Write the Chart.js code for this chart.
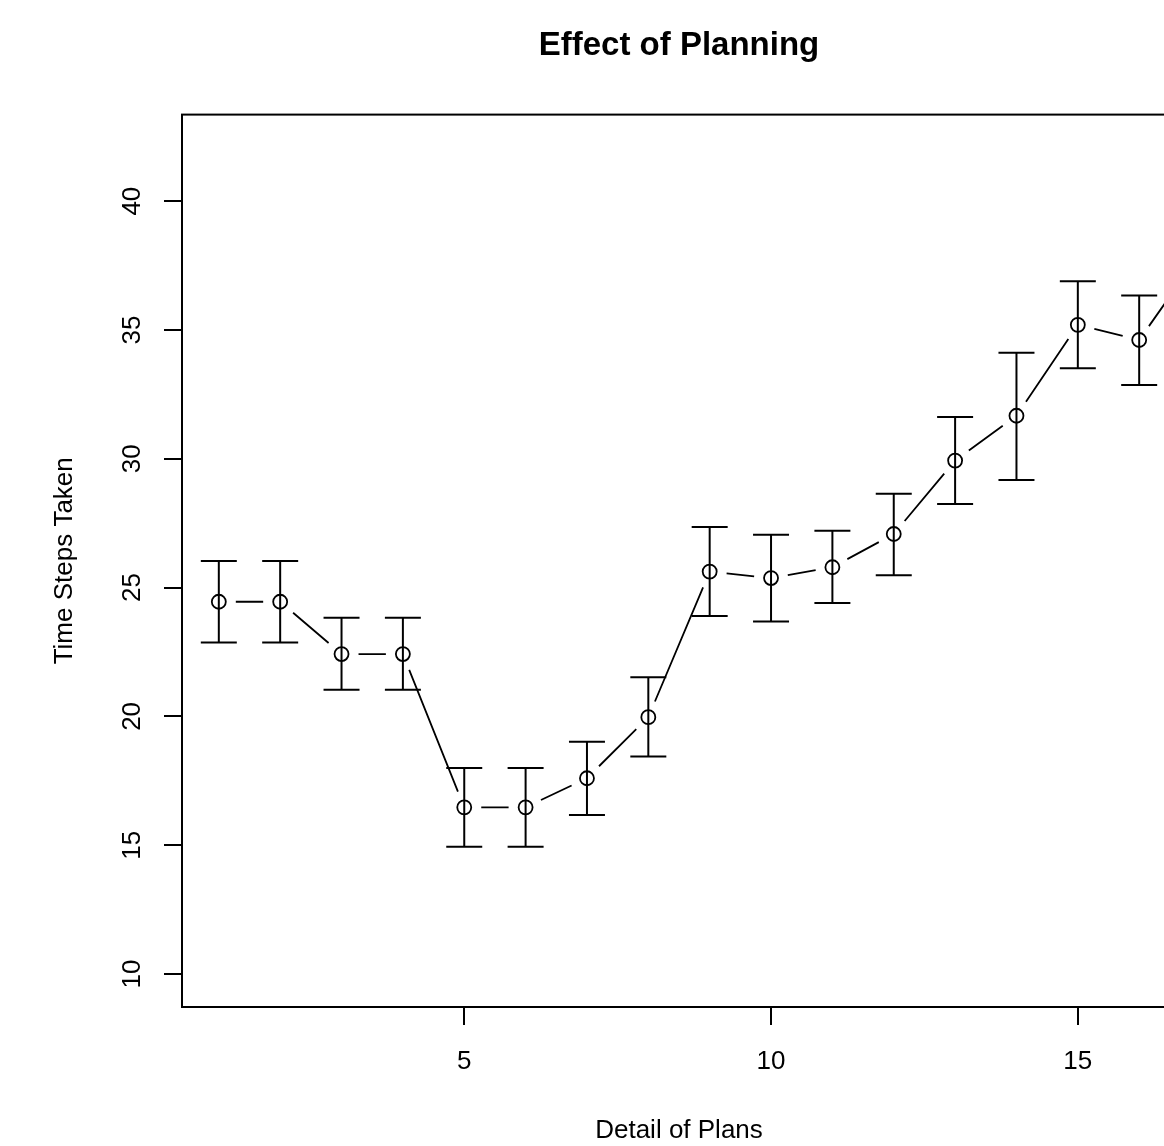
<!DOCTYPE html>
<html lang="en">
<head>
<meta charset="UTF-8">
<title>Effect of Planning</title>
<script src="https://cdn.jsdelivr.net/npm/chart.js"></script>
<style>
  html, body { margin: 0; padding: 0; background: #fff; overflow: hidden; }
  .wrap { width: 1164px; height: 1146px; overflow: hidden; }
  canvas { display: block; }
</style>
</head>
<body>
<div class="wrap">
  <canvas id="planChart" width="1240" height="1146"></canvas>
</div>
<script>
  // data (the last point sits outside the plot box)
  const detail = [1, 2, 3, 4, 5, 6, 7, 8, 9, 10, 11, 12, 13, 14, 15, 16, 17];
  const meanSteps = [24.45, 24.45, 22.42, 22.42, 16.47, 16.47, 17.6, 19.97, 25.62, 25.37, 25.79, 27.08, 29.93, 31.67, 35.2, 34.61, 38.0];
  const upperSteps = [26.03, 26.03, 23.83, 23.83, 18.0, 18.0, 19.02, 21.52, 27.35, 27.05, 27.21, 28.64, 31.62, 34.12, 36.89, 36.34, 39.7];
  const lowerSteps = [22.87, 22.87, 21.03, 21.03, 14.94, 14.94, 16.17, 18.44, 23.9, 23.68, 24.4, 25.48, 28.24, 29.18, 33.51, 32.86, 36.3];
  const xTicks = [5, 10, 15];
  const yTicks = [10, 15, 20, 25, 30, 35, 40];

  Chart.defaults.font.family = '"Liberation Sans", Arial, Helvetica, sans-serif';
  Chart.defaults.color = '#000';

  // error bars, the gapped connecting line and the plot box
  const errorBars = {
    id: 'errorBars',
    afterDatasetsDraw(chart) {
      const ctx = chart.ctx;
      const a = chart.chartArea;
      const x = chart.scales.x, y = chart.scales.y;
      ctx.save();
      ctx.strokeStyle = '#000';
      ctx.lineWidth = 2;
      ctx.strokeRect(a.left, a.top, a.right - a.left, a.bottom - a.top);
      ctx.beginPath();
      ctx.rect(a.left, a.top, a.right - a.left, a.bottom - a.top);
      ctx.clip();

      ctx.beginPath();
      detail.forEach((d, i) => {
        const px = x.getPixelForValue(d);
        const top = y.getPixelForValue(upperSteps[i]);
        const bot = y.getPixelForValue(lowerSteps[i]);
        ctx.moveTo(px, top); ctx.lineTo(px, bot);
        ctx.moveTo(px - 18, top); ctx.lineTo(px + 18, top);
        ctx.moveTo(px - 18, bot); ctx.lineTo(px + 18, bot);
      });
      ctx.stroke();

      const gap = 17;
      ctx.beginPath();
      for (let i = 0; i < detail.length - 1; i++) {
        const x0 = x.getPixelForValue(detail[i]), y0 = y.getPixelForValue(meanSteps[i]);
        const x1 = x.getPixelForValue(detail[i + 1]), y1 = y.getPixelForValue(meanSteps[i + 1]);
        const len = Math.hypot(x1 - x0, y1 - y0);
        if (len <= 2 * gap) continue;
        const ux = (x1 - x0) / len, uy = (y1 - y0) / len;
        ctx.moveTo(x0 + ux * gap, y0 + uy * gap);
        ctx.lineTo(x1 - ux * gap, y1 - uy * gap);
      }
      ctx.lineWidth = 1.8;
      ctx.stroke();
      ctx.restore();
    }
  };

  const ctx = document.getElementById('planChart').getContext('2d');
  new Chart(ctx, {
    type: 'scatter',
    data: {
      datasets: [{
        label: 'Time Steps Taken',
        data: detail.map((d, i) => ({ x: d, y: meanSteps[i] })),
        pointStyle: 'circle',
        pointRadius: 7,
        pointBorderWidth: 1.8,
        pointBorderColor: '#000',
        pointBackgroundColor: 'rgba(0,0,0,0)',
        showLine: false
      }]
    },
    options: {
      responsive: false,
      animation: false,
      layout: { padding: { left: 0, right: 64, top: 0, bottom: 0 } },
      plugins: {
        legend: { display: false },
        tooltip: { enabled: false },
        title: {
          display: true,
          fullSize: false,
          text: 'Effect of Planning',
          color: '#000',
          font: { size: 33, weight: 'bold', lineHeight: 1.2 },
          padding: { top: 26, bottom: 49 }
        }
      },
      scales: {
        x: {
          type: 'linear',
          min: 0.4,
          max: 16.6,
          afterBuildTicks: s => { s.ticks = xTicks.map(v => ({ value: v })); },
          afterFit: s => { s.height = 139; },
          grid: { drawOnChartArea: false, drawTicks: true, tickLength: 18, color: '#000', lineWidth: 2 },
          border: { display: true, color: '#000', width: 2 },
          ticks: { autoSkip: false, maxRotation: 0, padding: 21, font: { size: 26 }, color: '#000' },
          title: { display: true, text: 'Detail of Plans', font: { size: 26, lineHeight: 1.2 }, padding: { top: 0, bottom: 0 }, color: '#000' }
        },
        y: {
          type: 'linear',
          min: 8.72,
          max: 43.36,
          afterBuildTicks: s => { s.ticks = yTicks.map(v => ({ value: v })); },
          afterFit: s => { s.width = 182; },
          grid: { drawOnChartArea: false, drawTicks: true, tickLength: 18, color: '#000', lineWidth: 2 },
          border: { display: true, color: '#000', width: 2 },
          ticks: { autoSkip: false, minRotation: 90, maxRotation: 90, crossAlign: 'center', padding: 17, font: { size: 26 }, color: '#000' },
          title: { display: true, text: 'Time Steps Taken', font: { size: 26, lineHeight: 1.2 }, padding: { top: 49, bottom: 0 }, color: '#000' }
        }
      }
    },
    plugins: [errorBars]
  });
</script>
</body>
</html>
